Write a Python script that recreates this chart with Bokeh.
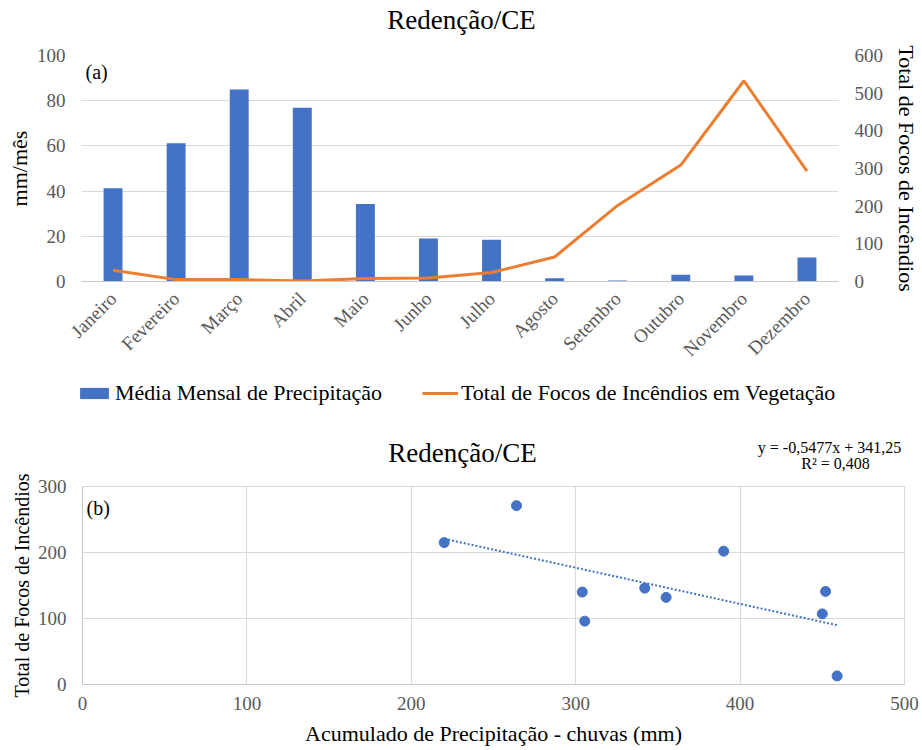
import math
from bokeh.plotting import figure
from bokeh.models import (Range1d, LinearAxis, FactorRange, Label, Legend,
                          LegendItem, FixedTicker, ColumnDataSource)
from bokeh.embed import file_html
from bokeh.resources import INLINE

# ---------------- data ----------------
months = ["Janeiro", "Fevereiro", "Março", "Abril", "Maio", "Junho", "Julho",
          "Agosto", "Setembro", "Outubro", "Novembro", "Dezembro"]
precip_mean = [41.3, 61.2, 85.0, 76.9, 34.3, 19.0, 18.5, 1.4, 0.4, 3.0, 2.7, 10.6]
fire_total = [30, 5, 5, 1, 8, 9, 24, 65, 202, 309, 533, 293]

precip_acc = [220, 264, 304, 305.5, 342, 355, 390, 452, 450, 459]
fire_annual = [215, 271, 140, 96, 146, 132, 202, 141, 107, 13]
trend_slope = -0.5477
trend_intercept = 341.25
trend_r2 = 0.408

left_ticks = [0, 20, 40, 60, 80, 100]
right_ticks = [0, 100, 200, 300, 400, 500, 600]
b_xticks = [0, 100, 200, 300, 400, 500]
b_yticks = [0, 100, 200, 300]

title_text = "Redenção/CE"
legend_bar = "Média Mensal de Precipitação"
legend_line = "Total de Focos de Incêndios em Vegetação"

# ---------------- styles ----------------
FONT = "Liberation Serif"
BLUE = "#4472C4"
ORANGE = "#ED7D31"
GRID = "#D9D9D9"
TICK = "#595959"
W = 922


def strip(height):
    s = figure(width=W, height=height, x_range=Range1d(0, W),
               y_range=Range1d(0, height), output_backend="svg",
               toolbar_location=None, min_border=0, x_axis_type=None,
               y_axis_type=None, title_location=None)
    s.outline_line_color = None
    s.xgrid.grid_line_color = None
    s.ygrid.grid_line_color = None
    s.background_fill_color = "white"
    s.border_fill_color = "white"
    return s


def txt(fig, x, y, text, size, align="center"):
    fig.add_layout(Label(x=x, y=y, text=text, text_font=FONT,
                         text_font_size=size, text_align=align,
                         text_baseline="middle", text_color="black"))


src = ColumnDataSource(dict(m=months, pr=precip_mean, f=fire_total))

# ---------------- top title strip (0-40) ----------------
h1 = strip(40)
txt(h1, 461, 40 - 19, title_text, "27px")

# ---------------- top chart (40-370) ----------------
p = figure(width=W, height=330, x_range=FactorRange(*months, range_padding=0),
           y_range=Range1d(0, 100), output_backend="svg", toolbar_location=None,
           min_border_left=81, min_border_right=82, min_border_top=15,
           min_border_bottom=88, title_location=None)
p.extra_y_ranges = {"fires": Range1d(0, 600)}
p.outline_line_color = None
p.background_fill_color = "white"
p.border_fill_color = "white"

p.vbar(x="m", top="pr", width=0.3, source=src, fill_color=BLUE, line_color=None)
p.line(x="m", y="f", source=src, y_range_name="fires", line_color=ORANGE,
       line_width=3)

p.xgrid.grid_line_color = None
p.ygrid.grid_line_color = GRID
p.ygrid.ticker = FixedTicker(ticks=left_ticks)

p.yaxis.ticker = FixedTicker(ticks=left_ticks)
p.yaxis.axis_label = "mm/mês"

rax = LinearAxis(y_range_name="fires", ticker=FixedTicker(ticks=right_ticks),
                 axis_label="Total de Focos de Incêndios")
p.add_layout(rax, "right")

for ax in p.yaxis:
    ax.axis_line_color = None
    ax.major_tick_line_color = None
    ax.minor_tick_line_color = None
    ax.major_tick_out = 0
    ax.major_tick_in = 0
    ax.major_label_text_font = FONT
    ax.major_label_text_font_size = "19px"
    ax.major_label_text_color = TICK
    ax.axis_label_text_font = FONT
    ax.axis_label_text_font_size = "22px"
    ax.axis_label_text_font_style = "normal"
    ax.axis_label_text_color = "black"
    ax.major_label_standoff = 16
    ax.axis_label_standoff = 2
rax.axis_label_standoff = 8

xa = p.xaxis[0]
xa.axis_line_color = "#C8C8C8"
xa.major_tick_line_color = None
xa.minor_tick_line_color = None
xa.major_tick_out = 0
xa.major_label_orientation = math.pi / 4
xa.major_label_text_font = FONT
xa.major_label_text_font_size = "19px"
xa.major_label_text_color = TICK
xa.major_label_standoff = 14

p.add_layout(Label(x=4, y=210, x_units="screen", y_units="screen", text="(a)",
                   text_font=FONT, text_font_size="20px", text_baseline="middle",
                   text_color="black"))

# ---------------- legend strip (370-420) ----------------
# same data as the chart, but the strip's y window lies outside it, so only
# the legend swatches are visible
lg = figure(width=W, height=50, x_range=FactorRange(*months),
            y_range=Range1d(1000, 1001), output_backend="svg",
            toolbar_location=None, min_border=0, x_axis_type=None,
            y_axis_type=None, title_location=None)
lg.outline_line_color = None
lg.xgrid.grid_line_color = None
lg.ygrid.grid_line_color = None
lg_bar = lg.vbar(x="m", top="pr", width=0.3, source=src, fill_color=BLUE,
                 line_color=None)
lg_line = lg.line(x="m", y="f", source=src, line_color=ORANGE, line_width=3)
legend = Legend(items=[LegendItem(label=legend_bar, renderers=[lg_bar]),
                       LegendItem(label=legend_line, renderers=[lg_line])],
                orientation="horizontal", location=(76, 14), padding=0, margin=0,
                spacing=40, label_standoff=3, glyph_width=36, glyph_height=14,
                border_line_color=None, background_fill_alpha=0,
                label_text_font=FONT, label_text_font_size="22px",
                label_text_color="black")
lg.add_layout(legend, "center")

# ---------------- bottom title strip (420-471) ----------------
H2 = 51
h2 = strip(H2)
txt(h2, 462, H2 - 32, title_text, "27px")
eq = "y = " + str(trend_slope).replace(".", ",") + "x + " + \
     str(trend_intercept).replace(".", ",")
txt(h2, 829, H2 - 27, eq, "16px")
txt(h2, 835, H2 - 43, "R² = " + str(trend_r2).replace(".", ","), "16px")

# ---------------- bottom chart (471-750) ----------------
q = figure(width=W, height=279, x_range=Range1d(0, 500), y_range=Range1d(0, 300),
           output_backend="svg", toolbar_location=None, min_border_left=82,
           min_border_right=18, min_border_top=15, min_border_bottom=66,
           title_location=None)
q.outline_line_color = GRID
q.background_fill_color = "white"
q.border_fill_color = "white"

q.scatter(precip_acc, fire_annual, size=10, fill_color=BLUE, line_color=BLUE)
tx = [min(precip_acc), max(precip_acc)]
ty = [trend_slope * v + trend_intercept for v in tx]
q.line(tx, ty, line_color=BLUE, line_width=2, line_dash="2 2")

q.xaxis.ticker = FixedTicker(ticks=b_xticks)
q.yaxis.ticker = FixedTicker(ticks=b_yticks)
q.xgrid.ticker = FixedTicker(ticks=b_xticks)
q.ygrid.ticker = FixedTicker(ticks=b_yticks)
q.xgrid.grid_line_color = GRID
q.ygrid.grid_line_color = GRID
q.xaxis.axis_label = "Acumulado de Precipitação - chuvas (mm)"
q.yaxis.axis_label = "Total de Focos de Incêndios"

for ax in list(q.xaxis) + list(q.yaxis):
    ax.axis_line_color = "#C8C8C8"
    ax.major_tick_line_color = None
    ax.minor_tick_line_color = None
    ax.major_tick_out = 0
    ax.major_label_text_font = FONT
    ax.major_label_text_font_size = "19px"
    ax.major_label_text_color = TICK
    ax.axis_label_text_font = FONT
    ax.axis_label_text_font_size = "22px"
    ax.axis_label_text_font_style = "normal"
    ax.axis_label_text_color = "black"
q.yaxis.axis_label_text_font_size = "20px"
q.yaxis.axis_label_standoff = 2
q.xaxis.axis_label_standoff = 8
q.yaxis.major_label_standoff = 16
q.xaxis.major_label_standoff = 12

q.add_layout(Label(x=4, y=177, x_units="screen", y_units="screen", text="(b)",
                   text_font=FONT, text_font_size="20px", text_baseline="middle",
                   text_color="black"))

open("out.html", "w").write(file_html([h1, p, lg, h2, q], INLINE))
